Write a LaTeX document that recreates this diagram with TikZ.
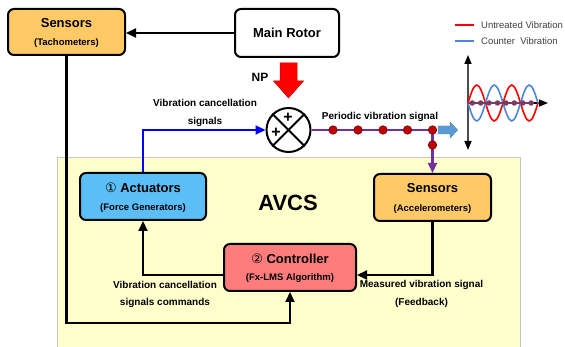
\documentclass[tikz,border=0pt]{standalone}
\usepackage{fontspec}
\setmainfont{Liberation Sans}
\newfontfamily\djv{DejaVu Sans}
\usetikzlibrary{arrows.meta,calc}
\definecolor{sensorange}{HTML}{FFCA66}
\definecolor{actblue}{HTML}{5BBEF7}
\definecolor{ctrlred}{HTML}{FF7C7C}
\definecolor{avcsyel}{HTML}{FFFFCC}
\definecolor{sigpurple}{HTML}{7030A0}
\definecolor{dotred}{HTML}{C00000}
\definecolor{dotedge}{HTML}{7A0000}
\definecolor{sigblue}{HTML}{0000FF}
\definecolor{arrowblue}{HTML}{5B9BD5}
\definecolor{waveblue}{HTML}{4F86D9}
\definecolor{axisdot}{HTML}{7B3A63}
\definecolor{legtext}{HTML}{404040}
\begin{document}
\begin{tikzpicture}[x=1pt,y=-1pt,
  box/.style={draw=black,line width=2pt,rounded corners=6pt,inner sep=0pt},
  ttl/.style={font=\fontsize{13}{15}\selectfont\bfseries,inner sep=0pt},
  sub/.style={font=\fontsize{9.5}{11}\selectfont\bfseries,inner sep=0pt},
  lbl/.style={font=\fontsize{10}{12}\selectfont\bfseries,inner sep=0pt},
  legend/.style={font=\fontsize{9.5}{11}\selectfont,text=legtext,inner sep=0pt,anchor=west},
  conn/.style={line width=2.2pt,-{Triangle[length=10pt,width=9pt]}},
  sigdot/.style={circle,fill=dotred,draw=dotedge,line width=0.6pt,minimum size=8.5pt,inner sep=0pt},
  axdot/.style={circle,fill=axisdot,minimum size=5.5pt,inner sep=0pt}]
\useasboundingbox (0,0) rectangle (565,347);
\fill[white] (0,0) rectangle (565,347);
% AVCS region
\draw[fill=avcsyel,draw=gray!45,line width=0.8pt] (57,157) rectangle (520,352);
\node[font=\fontsize{22}{24}\selectfont\bfseries,inner sep=0pt] (avcs) at (288,203) {AVCS};

% boxes
\node[box,fill=sensorange,minimum width=117pt,minimum height=46pt] (tach) at (66.5,32) {};
\node[ttl] (tachT) at ($(tach)+(0,-9)$) {Sensors};
\node[sub] (tachS) at ($(tach)+(0,11)$) {(Tachometers)};

\node[box,fill=white,minimum width=104pt,minimum height=48pt] (rotor) at (287,33) {};
\node[ttl] (rotorT) at (rotor) {Main Rotor};

\node[box,fill=actblue,minimum width=126pt,minimum height=47pt] (act) at (143,196.5) {};
\node[ttl] (actT) at ($(act)+(0,-8.5)$) {{\djv\mdseries ①} Actuators};
\node[sub] (actS) at ($(act)+(0,11.5)$) {(Force Generators)};

\node[box,fill=sensorange,minimum width=117pt,minimum height=47pt] (sensA) at (432.5,197.5) {};
\node[ttl] (sensAT) at ($(sensA)+(0,-9.5)$) {Sensors};
\node[sub] (sensAS) at ($(sensA)+(0,11.5)$) {(Accelerometers)};

\node[box,fill=ctrlred,minimum width=132pt,minimum height=47pt] (ctrl) at (290,267.5) {};
\node[ttl] (ctrlT) at ($(ctrl)+(0,-8.5)$) {{\djv\mdseries ②} Controller};
\node[sub] (ctrlS) at ($(ctrl)+(0,10.5)$) {(Fx-LMS Algorithm)};

% summing junction
\node[circle,draw,line width=2pt,minimum size=44pt,inner sep=0pt] (sum) at (288.5,130) {};
\draw[line width=2pt] (sum.north west) -- (sum.south east);
\draw[line width=2pt] (sum.north east) -- (sum.south west);
\node[font=\fontsize{16}{16}\selectfont\bfseries,inner sep=0pt] (plusT) at (288,118) {+};
\node[font=\fontsize{16}{16}\selectfont\bfseries,inner sep=0pt] (plusL) at (276,133) {+};

% NP block arrow
\coordinate (npTip) at ($(sum.north)+(0,-9)$);
\filldraw[fill=red,draw=red!75!black,line width=0.5pt]
  ($(npTip)+(-8.5,-35)$) -- ($(npTip)+(8.5,-35)$) -- ($(npTip)+(8.5,-17)$) -- ($(npTip)+(15,-17)$)
  -- (npTip) -- ($(npTip)+(-15,-17)$) -- ($(npTip)+(-8.5,-17)$) -- cycle;
\node[font=\fontsize{12}{14}\selectfont\bfseries,inner sep=0pt] (np) at (260,77) {NP};

% connectors
\draw[conn] (rotor.west) -- (rotor.west -| tach.east);
\draw[conn,sigblue] (act.north) |- (sum.west);
\coordinate (jn) at (sensA.north |- sum.east);
\draw[sigpurple,line width=2.2pt] (sum.east) -- (jn);
\draw[conn,sigpurple] (jn) -- (sensA.north);
\draw[conn] ([yshift=-7.5pt]ctrl.west) -| (act.south);
\draw[conn] (sensA.south) |- ([yshift=-7.5pt]ctrl.east);
\draw[conn] (tach.south) -- (tach.south |- 0,323) -| (ctrl.south);

% signal dots
\foreach \i/\xx in {1/333,2/358,3/383,4/407.5}{
  \node[sigdot] (sd\i) at (\xx,130) {};
}
\node[sigdot] (sd5) at (jn) {};
\node[sigdot] (sd6) at (432.5,145) {};

% light blue block arrow
\filldraw[fill=arrowblue,draw=arrowblue!80!black,line width=0.4pt] (438,126) -- (450,126) -- (450,122) -- (457.5,130) -- (450,138) -- (450,134) -- (438,134) -- cycle;

% labels
\node[lbl] (l1a) at (205,103) {Vibration cancellation};
\node[lbl] (l1b) at (205,122) {signals};
\node[lbl] (l2) at (380,117) {Periodic vibration signal};
\node[lbl] (l3a) at (165,285) {Vibration cancellation};
\node[lbl] (l3b) at (165,303) {signals commands};
\node[lbl] (l4a) at (421.5,285) {Measured vibration signal};
\node[lbl] (l4b) at (421.5,303) {(Feedback)};

% legend
\draw[red,line width=1.8pt] (455,25) -- (474,25);
\node[legend] (leg1) at (481,25) {Untreated Vibration};
\draw[waveblue,line width=1.8pt] (455,41) -- (474,41);
\node[legend] (leg2) at (481,41) {Counter\ \ Vibration};

% wave plot
\draw[line width=1.5pt,draw=gray!60!black,{Triangle[length=9pt,width=7pt,color=black]}-{Triangle[length=9pt,width=7pt,color=black]}] (468,150) -- (468,55);
\draw[line width=1.5pt,-{Triangle[length=9pt,width=7pt]}] (468,103) -- (548,103);
\draw[red,line width=1.6pt] (468,103) sin (476.75,85) cos (485.5,103) sin (494.25,121) cos (503,103)
  sin (511.75,85) cos (520.5,103) sin (529.25,121) cos (538,103);
\draw[waveblue,line width=1.6pt] (468,103) sin (476.75,121) cos (485.5,103) sin (494.25,85) cos (503,103)
  sin (511.75,121) cos (520.5,103) sin (529.25,85) cos (538,103);
\draw[axisdot,line width=1.8pt] (468,103) -- (532,103);
\foreach \i in {0,...,7}{
  \node[axdot] (ad\i) at ({472.3+8.4*\i},103) {};
}
\end{tikzpicture}
\end{document}
